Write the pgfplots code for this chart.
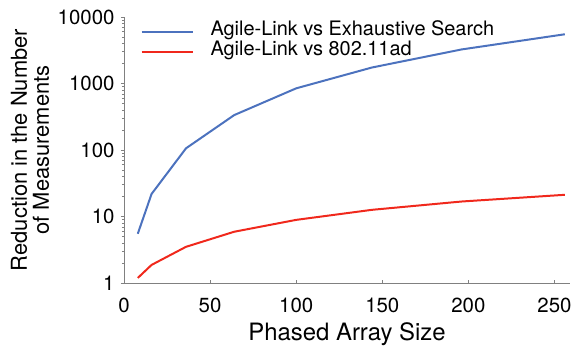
\documentclass[border=0pt]{standalone}
\usepackage{pgfplots}
\pgfplotsset{compat=1.18}
\usepackage{fontspec}
\setmainfont{TeX Gyre Heros}
\definecolor{lblue}{RGB}{76,114,190}
\definecolor{lred}{RGB}{240,40,28}
\definecolor{axgray}{RGB}{128,128,128}
\begin{document}
\begin{tikzpicture}
\begin{axis}[
  scale only axis,
  width=446bp, height=266bp,
  xmin=0, xmax=259,
  ymode=log, ymin=1, ymax=10000,
  axis x line*=bottom, axis y line*=left,
  axis line style={axgray, line width=0.8pt},
  xtick={0,50,100,150,200,250},
  xticklabels={0,50,100,150,200,250},
  ytick={1,10,100,1000,10000},
  yticklabels={1,10,100,1000,10000},
  tick style={axgray, line width=0.6pt},
  major tick length=3bp, minor tick length=2bp,
  xtick align=inside, ytick align=outside,
  minor y tick num=8,
  tick label style={font=\fontsize{20.5}{20.5}\selectfont},
  /pgf/number format/assume math mode=true,
  xticklabel style={yshift=-11bp},
  yticklabel style={xshift=-3bp},
  xlabel={Phased Array Size},
  xlabel style={font=\fontsize{24}{24}\selectfont, at={(axis description cs:0.5,0)}, anchor=base, yshift=-57bp},
  ylabel={Reduction in the Number\\of Measurements},
  ylabel style={font=\fontsize{22}{22}\selectfont, align=center, at={(axis description cs:-0.16,0.5)}, anchor=south, rotate=0},
  legend style={draw=none, fill=none, at={(axis description cs:0.03,0.99)}, anchor=north west,
    font=\fontsize{20}{20}\selectfont, row sep=0pt,
    nodes={inner ysep=0pt, text height=14bp, text depth=6bp},
    /tikz/every odd column/.append style={column sep=15bp}},
  legend cell align=left,
  legend image code/.code={\draw[#1] (0bp,0bp) -- (51bp,0bp);},
  every axis plot/.append style={line width=2pt},
  clip=false,
]
\addplot[lblue, line join=round] coordinates {
  (8,5.5) (16,21.8) (36,106) (64,335) (100,846) (144,1740) (196,3250) (256,5500)
};
\addlegendentry{Agile-Link vs Exhaustive Search}
\addplot[lred, line join=round] coordinates {
  (8,1.19) (16,1.87) (36,3.5) (64,5.9) (100,8.9) (144,12.6) (196,16.8) (256,21.2)
};
\addlegendentry{Agile-Link vs 802.11ad}
\end{axis}
\pgfresetboundingbox
\path (-124bp,-75bp) rectangle (448bp,283bp);
\end{tikzpicture}
\end{document}
